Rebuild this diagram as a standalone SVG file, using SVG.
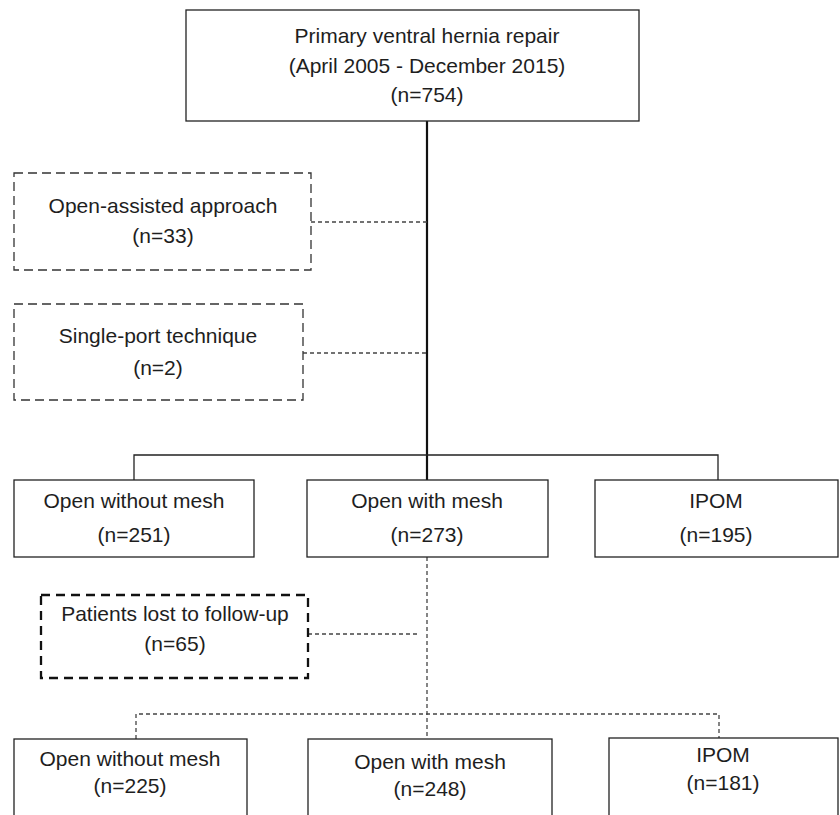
<svg xmlns="http://www.w3.org/2000/svg" width="840" height="815" viewBox="0 0 840 815">
<style>
text{font-family:"Liberation Sans",Arial,sans-serif;font-size:21px;fill:#1e1e1e;text-anchor:middle}
.box{fill:#fff;stroke:#222;stroke-width:1.3}
.dbox{fill:#fff;stroke:#333;stroke-width:1.3;stroke-dasharray:9,5}
.tdbox{fill:#fff;stroke:#111;stroke-width:2.3;stroke-dasharray:9,6}
.solid{fill:none;stroke:#222;stroke-width:1.3}
.main{fill:none;stroke:#111;stroke-width:2.2}
.dash{fill:none;stroke:#444;stroke-width:1.3;stroke-dasharray:4,3}
</style>
<rect width="840" height="815" fill="#fff"/>
<g id="connectors">
<line class="main" x1="427" y1="121" x2="427" y2="480"/>
<polyline class="solid" points="134,480 134,455 718,455 718,480"/>
<line class="dash" x1="311" y1="222" x2="427" y2="222"/>
<line class="dash" x1="303" y1="353" x2="427" y2="353"/>
<line class="dash" x1="427" y1="557" x2="427" y2="739"/>
<line class="dash" x1="308" y1="634" x2="418" y2="634"/>
<polyline class="dash" points="136,739 136,714 719,714 719,738"/>
</g>
<g id="n_top"><rect class="box" x="186" y="10" width="453" height="111"/>
<text x="427" y="43">Primary ventral hernia repair</text>
<text x="427" y="73">(April 2005 - December 2015)</text>
<text x="427" y="102">(n=754)</text></g>
<g id="n_openassist"><rect class="dbox" x="14" y="173" width="297" height="97"/>
<text x="163" y="213">Open-assisted approach</text>
<text x="163" y="243">(n=33)</text></g>
<g id="n_singleport"><rect class="dbox" x="14" y="304" width="289" height="96"/>
<text x="158" y="343">Single-port technique</text>
<text x="158" y="375">(n=2)</text></g>
<g id="n_open_nomesh1"><rect class="box" x="14" y="480" width="240" height="77"/>
<text x="134" y="508">Open without mesh</text>
<text x="134" y="542">(n=251)</text></g>
<g id="n_open_mesh1"><rect class="box" x="307" y="480" width="241" height="77"/>
<text x="427" y="508">Open with mesh</text>
<text x="427" y="542">(n=273)</text></g>
<g id="n_ipom1"><rect class="box" x="595" y="480" width="243" height="77"/>
<text x="716" y="508">IPOM</text>
<text x="716" y="542">(n=195)</text></g>
<g id="n_lost"><rect class="tdbox" x="41" y="595" width="267" height="83"/>
<text x="175" y="621">Patients lost to follow-up</text>
<text x="175" y="651">(n=65)</text></g>
<g id="n_open_nomesh2"><rect class="box" x="14" y="739" width="233" height="100"/>
<text x="130" y="766">Open without mesh</text>
<text x="130" y="793">(n=225)</text></g>
<g id="n_open_mesh2"><rect class="box" x="308" y="739" width="244" height="100"/>
<text x="430" y="769">Open with mesh</text>
<text x="430" y="796">(n=248)</text></g>
<g id="n_ipom2"><rect class="box" x="609" y="738" width="229" height="100"/>
<text x="723" y="762">IPOM</text>
<text x="723" y="790">(n=181)</text></g>
</svg>
